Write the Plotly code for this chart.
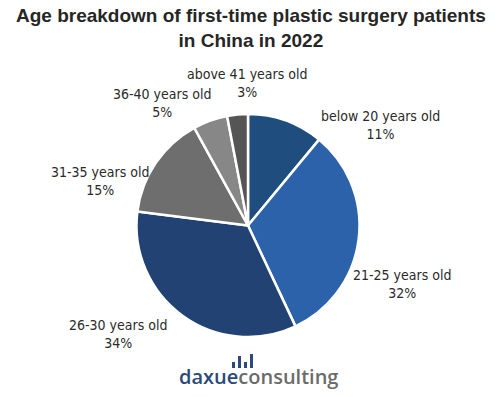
import plotly.graph_objects as go

# ---- data ----
categories = ["below 20 years old", "21-25 years old", "26-30 years old",
              "31-35 years old", "36-40 years old", "above 41 years old"]
shares = [11, 32, 34, 15, 5, 3]
colors = ["#1F4E7E", "#2B62A9", "#234274", "#6E6E6E", "#878787", "#555555"]

# label placement (pixel centres in the 502x397 canvas)
label_px = [(380, 125), (402, 284), (118, 334), (100, 181), (162, 103), (247, 83)]

W, H = 502, 397
cx, cy, r = 248, 225.5, 111.5

fig = go.Figure(go.Pie(
    labels=categories,
    values=shares,
    sort=False,
    direction="clockwise",
    rotation=0,
    textinfo="none",
    hoverinfo="label+percent",
    marker=dict(colors=colors, line=dict(color="white", width=2.5)),
    domain=dict(x=[(cx - r) / W, (cx + r) / W],
                y=[(H - cy - r) / H, (H - cy + r) / H]),
    showlegend=False,
))

annotations = []
for cat, val, (px, py) in zip(categories, shares, label_px):
    annotations.append(dict(
        x=px / W, y=1 - py / H, xref="paper", yref="paper",
        text=f"{cat}<br>{val}%", showarrow=False,
        xanchor="center", yanchor="middle", align="center",
        font=dict(family="Liberation Sans Narrow, DejaVu Sans Condensed, sans-serif",
                  size=14, color="#2A2A2A"),
    ))

# title
annotations.append(dict(
    x=0.5, y=1 - 28 / H, xref="paper", yref="paper",
    text="<b>Age breakdown of first-time plastic surgery patients<br>in China in 2022</b>",
    showarrow=False, xanchor="center", yanchor="middle", align="center",
    font=dict(family="Liberation Sans, Arial, sans-serif", size=19, color="#262626"),
))

# logo text
annotations.append(dict(
    x=258 / W, y=1 - 376 / H, xref="paper", yref="paper",
    text="<span style='color:#2B4A7A'>daxue</span><span style='color:#6B6B6B'>consulting</span>",
    showarrow=False, xanchor="center", yanchor="middle",
    font=dict(family="Open Sans, sans-serif", size=20, weight=600),
))

# logo bar icon
shapes = []
for x0, top in [(232, 362), (238, 356), (244, 362), (250, 354)]:
    shapes.append(dict(type="rect", xref="paper", yref="paper",
                       x0=x0 / W, x1=(x0 + 3) / W,
                       y0=1 - 368 / H, y1=1 - top / H,
                       fillcolor="#2B4A7A", line=dict(width=0)))

fig.update_layout(
    width=W, height=H,
    margin=dict(l=0, r=0, t=0, b=0),
    paper_bgcolor="white", plot_bgcolor="white",
    annotations=annotations,
    shapes=shapes,
)

fig.write_html("out.html",
               config={"displayModeBar": False},
               post_script="document.body.style.margin='0';document.body.style.overflow='hidden';")
